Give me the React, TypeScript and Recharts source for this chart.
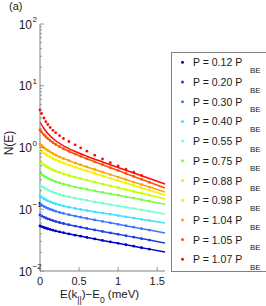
import { ComposedChart, Line, XAxis, YAxis } from "recharts";

// pressures (in units of P_BE) and their colours
const pLabels = ["0.12", "0.20", "0.30", "0.40", "0.55", "0.75", "0.88", "0.98", "1.04", "1.05", "1.07"];
const colors = ["#0000c8", "#1f3fe6", "#3a78ff", "#3fe0ff", "#74ffd0", "#72ff45", "#c4ff00", "#f2f200", "#ffa200", "#ff5200", "#ff0a0a"];

// energy grids (meV)
const dotE = [0, 0.02, 0.05, 0.075, 0.1, 0.13, 0.165, 0.2, 0.25, 0.3, 0.37, 0.45, 0.52, 0.6, 0.7, 0.8, 0.9, 1.0, 1.1, 1.2, 1.3, 1.4];
const fitE = [0, 0.05, 0.1, 0.2, 0.3, 0.45, 0.6, 0.8, 1.0, 1.2, 1.4, 1.6];

// measured N(E)
const dots012 = [0.0536, 0.0523, 0.0507, 0.0494, 0.0483, 0.0471, 0.0458, 0.0446, 0.0431, 0.0417, 0.0399, 0.0381, 0.0366, 0.035, 0.0331, 0.0313, 0.0297, 0.0281, 0.0266, 0.0252, 0.0238, 0.0226];
const dots020 = [0.0807, 0.0781, 0.0746, 0.0722, 0.0701, 0.0678, 0.0655, 0.0635, 0.061, 0.0588, 0.0561, 0.0534, 0.0512, 0.0489, 0.0463, 0.0438, 0.0415, 0.0393, 0.0372, 0.0353, 0.0334, 0.0317];
const dots030 = [0.1216, 0.1171, 0.1113, 0.1072, 0.1037, 0.1, 0.0963, 0.0931, 0.0892, 0.0858, 0.0817, 0.0776, 0.0745, 0.0711, 0.0672, 0.0636, 0.0602, 0.0571, 0.054, 0.0512, 0.0485, 0.046];
const dots040 = [0.164, 0.157, 0.148, 0.1424, 0.137, 0.1321, 0.127, 0.1227, 0.1174, 0.113, 0.108, 0.1031, 0.0993, 0.0954, 0.0909, 0.0867, 0.0827, 0.0789, 0.0754, 0.0719, 0.0687, 0.0656];
const dots055 = [0.247, 0.236, 0.223, 0.213, 0.205, 0.197, 0.189, 0.182, 0.174, 0.167, 0.159, 0.151, 0.145, 0.139, 0.132, 0.125, 0.119, 0.113, 0.1078, 0.1025, 0.0975, 0.0928];
const dots075 = [0.386, 0.368, 0.346, 0.331, 0.318, 0.304, 0.291, 0.28, 0.266, 0.255, 0.242, 0.229, 0.22, 0.21, 0.198, 0.187, 0.177, 0.168, 0.159, 0.151, 0.143, 0.135];
const dots088 = [0.582, 0.555, 0.521, 0.497, 0.477, 0.455, 0.434, 0.416, 0.394, 0.375, 0.352, 0.33, 0.313, 0.295, 0.275, 0.256, 0.239, 0.223, 0.208, 0.194, 0.181, 0.169];
const dots098 = [0.911, 0.867, 0.811, 0.771, 0.737, 0.7, 0.664, 0.633, 0.593, 0.56, 0.52, 0.479, 0.448, 0.416, 0.38, 0.347, 0.317, 0.29, 0.265, 0.243, 0.222, 0.203];
const dots104 = [1.139, 1.077, 0.997, 0.942, 0.895, 0.846, 0.797, 0.755, 0.705, 0.662, 0.611, 0.561, 0.523, 0.484, 0.44, 0.4, 0.364, 0.332, 0.302, 0.275, 0.251, 0.229];
const dots105 = [1.92, 1.781, 1.61, 1.494, 1.396, 1.299, 1.204, 1.125, 1.032, 0.955, 0.866, 0.783, 0.72, 0.657, 0.587, 0.526, 0.471, 0.423, 0.379, 0.34, 0.305, 0.274];
const dots107 = [4.05, 3.553, 3.004, 2.617, 2.358, 2.108, 1.899, 1.737, 1.553, 1.399, 1.251, 1.106, 0.989, 0.871, 0.75, 0.651, 0.567, 0.502, 0.445, 0.397, 0.352];

// fitted curves
const fit012 = [0.0536, 0.0507, 0.0483, 0.0446, 0.0417, 0.0381, 0.035, 0.0313, 0.0281, 0.0252, 0.0226, 0.0203];
const fit020 = [0.0807, 0.0746, 0.0701, 0.0635, 0.0588, 0.0534, 0.0489, 0.0438, 0.0393, 0.0353, 0.0317, 0.0284];
const fit030 = [0.1216, 0.1113, 0.1037, 0.0931, 0.0858, 0.0776, 0.0711, 0.0636, 0.0571, 0.0512, 0.046, 0.0412];
const fit040 = [0.164, 0.148, 0.137, 0.1227, 0.113, 0.1031, 0.0954, 0.0867, 0.0789, 0.0719, 0.0656, 0.0598];
const fit055 = [0.247, 0.223, 0.205, 0.182, 0.167, 0.151, 0.139, 0.125, 0.113, 0.1025, 0.0928, 0.0839];
const fit075 = [0.386, 0.346, 0.318, 0.28, 0.255, 0.229, 0.21, 0.187, 0.168, 0.151, 0.135, 0.121];
const fit088 = [0.582, 0.521, 0.477, 0.416, 0.375, 0.33, 0.295, 0.256, 0.223, 0.194, 0.169, 0.147];
const fit098 = [0.911, 0.811, 0.737, 0.633, 0.56, 0.479, 0.416, 0.347, 0.29, 0.243, 0.203, 0.17];
const fit104 = [1.139, 0.997, 0.895, 0.755, 0.662, 0.561, 0.484, 0.4, 0.332, 0.275, 0.229, 0.19];
const fit105 = [1.92, 1.61, 1.396, 1.125, 0.955, 0.783, 0.657, 0.526, 0.423, 0.34, 0.274, 0.221];
const fit107 = [2.588, 2.033, 1.684, 1.286, 1.065, 0.862, 0.723, 0.584, 0.475, 0.386, 0.315, 0.256];

const xTicks = [0, 0.5, 1, 1.5];
const yMajor = [0.01, 0.1, 1, 10, 100];
const yExp = ["\u22122", "\u22121", "0", "1", "2"];
const yMinor = [
  0.02, 0.03, 0.04, 0.05, 0.06, 0.07, 0.08, 0.09,
  0.2, 0.3, 0.4, 0.5, 0.6, 0.7, 0.8, 0.9,
  2, 3, 4, 5, 6, 7, 8, 9,
  20, 30, 40, 50, 60, 70, 80, 90,
];

const allDots = [dots012, dots020, dots030, dots040, dots055, dots075, dots088, dots098, dots104, dots105, dots107];
const allFits = [fit012, fit020, fit030, fit040, fit055, fit075, fit088, fit098, fit104, fit105, fit107];

const series = pLabels.map((p, i) => ({
  p,
  color: colors[i],
  dots: allDots[i].map((v, j) => ({ e: dotE[j], v })),
  fit: allFits[i].map((v, j) => ({ e: fitE[j], v })),
}));

const AXIS = "#808080";
const TEXT = "#1a1a1a";
const FONT = '"Liberation Sans", Arial, sans-serif';
const PLOT = { left: 40, right: 165, top: 24, bottom: 271 };

const LeftTick = (props: any) => {
  const { y, payload } = props;
  const k = yMajor.indexOf(payload.value);
  const major = k >= 0;
  return (
    <g>
      <line x1={PLOT.left} x2={PLOT.left + (major ? 4 : 2)} y1={y} y2={y} stroke={AXIS} strokeWidth={0.8} />
      {major && (
        <text x={32} y={y + 4.5} textAnchor="end" fontSize={12} fill={TEXT} fontFamily={FONT}>
          10
        </text>
      )}
      {major && (
        <text x={32.5} y={y - 2} textAnchor="start" fontSize={8} fill={TEXT} fontFamily={FONT}>
          {yExp[k]}
        </text>
      )}
    </g>
  );
};

const RightTick = (props: any) => {
  const { y, payload } = props;
  const major = yMajor.includes(payload.value);
  return <line x1={PLOT.right} x2={PLOT.right - (major ? 4 : 2)} y1={y} y2={y} stroke={AXIS} strokeWidth={0.8} />;
};

const BottomTick = (props: any) => {
  const { x, payload } = props;
  return (
    <g>
      <line x1={x} x2={x} y1={PLOT.bottom} y2={PLOT.bottom - 4} stroke={AXIS} strokeWidth={0.8} />
      <text x={x} y={PLOT.bottom + 13.5} textAnchor="middle" fontSize={11} fill={TEXT} fontFamily={FONT}>
        {payload.value}
      </text>
    </g>
  );
};

const TopTick = (props: any) => {
  const { x } = props;
  return <line x1={x} x2={x} y1={PLOT.top} y2={PLOT.top + 4} stroke={AXIS} strokeWidth={0.8} />;
};

const XTitle = () => (
  <text x={60} y={298} fontSize={11.5} fill={TEXT} fontFamily={FONT}>
    E(k
    <tspan fontSize={8.5} dy={5}>||</tspan>
    <tspan dy={-5}>){"\u2212"}E</tspan>
    <tspan fontSize={8.5} dy={5}>0</tspan>
    <tspan dy={-5}> (meV)</tspan>
  </text>
);

const YTitle = () => (
  <text
    x={9}
    y={143}
    transform="rotate(-90, 9, 143)"
    textAnchor="middle"
    dominantBaseline="central"
    fontSize={12}
    fill={TEXT}
    fontFamily={FONT}
  >
    N(E)
  </text>
);

const LegendBox = () => (
  <div
    style={{
      position: "absolute",
      left: 171,
      top: 52,
      width: 110,
      height: 220,
      border: `1px solid ${AXIS}`,
      background: "#fff",
      boxSizing: "border-box",
    }}
  >
    <svg width={110} height={220} style={{ display: "block" }}>
      {series.map((s, i) => {
        const cy = 9.3 + i * 19.7;
        return (
          <g key={s.p}>
            <circle cx={10.5} cy={cy} r={1.5} fill={s.color} />
            <text x={21} y={cy + 4} fontSize={10.5} fill={TEXT} fontFamily={FONT}>
              P = {s.p} P
            </text>
            <text x={78} y={cy + 10.5} fontSize={8} fill={TEXT} fontFamily={FONT}>
              BE
            </text>
          </g>
        );
      })}
    </svg>
  </div>
);

export default function App() {
  return (
    <div
      style={{
        position: "absolute",
        left: 0,
        top: 0,
        width: 266,
        height: 306,
        overflow: "hidden",
        background: "#fff",
        fontFamily: FONT,
      }}
    >
      <div style={{ position: "absolute", left: 9, top: 0, fontSize: 11, color: TEXT }}>(a)</div>
      <ComposedChart width={266} height={306} margin={{ top: 24, right: 101, bottom: 0, left: 0 }}>
        <XAxis
          dataKey="e"
          type="number"
          domain={[0, 1.6]}
          ticks={xTicks}
          interval={0}
          height={35}
          tickLine={false}
          tick={BottomTick}
          axisLine={{ stroke: AXIS }}
          label={{ content: () => <XTitle /> }}
        />
        <XAxis
          xAxisId="t"
          orientation="top"
          dataKey="e"
          type="number"
          domain={[0, 1.6]}
          ticks={xTicks}
          interval={0}
          height={0}
          tickLine={false}
          tick={TopTick}
          axisLine={{ stroke: AXIS }}
        />
        <YAxis
          type="number"
          scale="log"
          domain={[0.01, 100]}
          allowDataOverflow
          ticks={[...yMajor, ...yMinor]}
          interval={0}
          width={40}
          tickLine={false}
          tick={LeftTick}
          axisLine={{ stroke: AXIS }}
          label={{ content: () => <YTitle /> }}
        />
        <YAxis
          yAxisId="r"
          orientation="right"
          type="number"
          scale="log"
          domain={[0.01, 100]}
          allowDataOverflow
          ticks={[...yMajor, ...yMinor]}
          interval={0}
          width={0}
          tickLine={false}
          tick={RightTick}
          axisLine={{ stroke: AXIS }}
        />
        {series.map((s) => (
          <Line
            key={`fit-${s.p}`}
            data={s.fit}
            dataKey="v"
            type="monotone"
            stroke={s.color}
            strokeWidth={1.5}
            dot={false}
            activeDot={false}
            isAnimationActive={false}
          />
        ))}
        {series.map((s) => (
          <Line
            key={`dots-${s.p}`}
            data={s.dots}
            dataKey="v"
            stroke="none"
            dot={{ r: 1.4, fill: s.color, stroke: "none" }}
            activeDot={false}
            isAnimationActive={false}
          />
        ))}
      </ComposedChart>
      <LegendBox />
    </div>
  );
}
